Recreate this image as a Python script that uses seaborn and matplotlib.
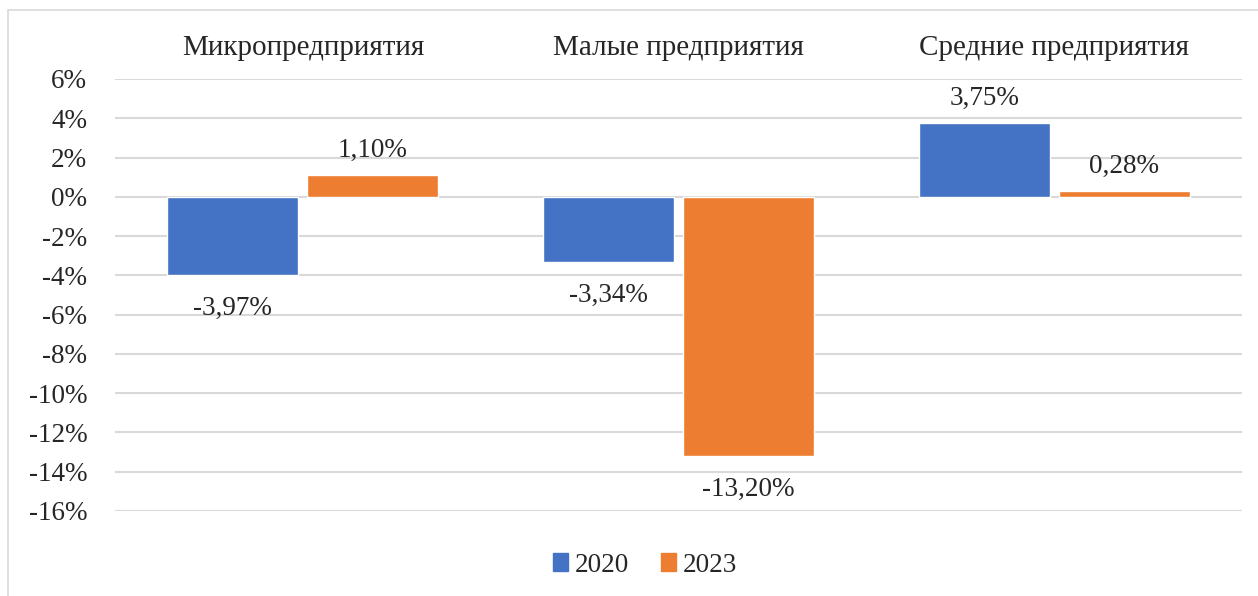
import matplotlib
matplotlib.use("Agg")
import matplotlib.pyplot as plt
import matplotlib.patches as mpatches
import seaborn as sns
import pandas as pd

categories = ["Микропредприятия", "Малые предприятия", "Средние предприятия"]
years = ["2020", "2023"]
values_2020 = [-3.97, -3.34, 3.75]
values_2023 = [1.10, -13.20, 0.28]
yticks = list(range(-16, 7, 2))

df = pd.DataFrame({
    "cat": categories * 2,
    "year": [years[0]] * 3 + [years[1]] * 3,
    "val": values_2020 + values_2023,
})

sns.set_style("white")
plt.rcParams["font.family"] = ["Liberation Serif", "DejaVu Serif"]

W, H = 1258, 596
fig = plt.figure(figsize=(W / 100, H / 100), dpi=100)
ax = fig.add_axes([115 / W, 1 - 511 / H, (1242 - 115) / W, (511 - 79) / H])

palette = {"2020": "#4472C4", "2023": "#ED7D31"}
sns.barplot(data=df, x="cat", y="val", hue="year", order=categories,
            hue_order=years, palette=palette, width=0.745, gap=0.064,
            saturation=1, ax=ax, legend=False, zorder=3)

FS = 19.5
ax.set_ylim(-16, 6)
ax.set_xlim(-0.5, 2.5)
ax.set_yticks(yticks)
ax.set_yticklabels([f"{t}%" for t in yticks], fontsize=FS)
ax.yaxis.grid(True, color="#d9d9d9", linewidth=1.5, zorder=0)
ax.set_axisbelow(True)
for s in ax.spines.values():
    s.set_visible(False)
ax.tick_params(axis="y", length=0, pad=20)
ax.xaxis.tick_top()
ax.tick_params(axis="x", length=0, pad=13, labelsize=21)
ax.set_xlabel("")
ax.set_ylabel("")

for cont in ax.containers:
    hs = [b.get_height() for b in cont]
    pos = [f"{h:.2f}%".replace(".", ",") if h >= 0 else "" for h in hs]
    neg = [f"{h:.2f}%".replace(".", ",") if h < 0 else "" for h in hs]
    ax.bar_label(cont, labels=pos, padding=9, fontsize=FS)
    ax.bar_label(cont, labels=neg, padding=15, fontsize=FS)

handles = [mpatches.Patch(color=palette[y], label=y) for y in years]
fig.legend(handles=handles, loc="center", bbox_to_anchor=(645 / W, 1 - 565 / H),
           ncol=2, frameon=False, fontsize=FS, handlelength=0.55,
           handleheight=0.6, handletextpad=0.25, columnspacing=1.2)

border = mpatches.Rectangle((8 / W, -0.1), 1.2, 1.1 - 10 / H,
                            transform=fig.transFigure, fill=False,
                            edgecolor="#d9d9d9", linewidth=1.2)
fig.patches.append(border)

fig.savefig("out.png", dpi=100)
